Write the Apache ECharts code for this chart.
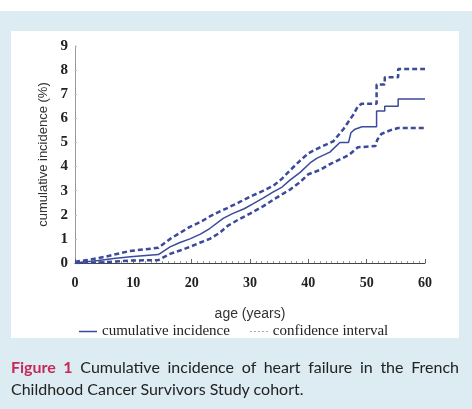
<!DOCTYPE html>
<html>
<head>
<meta charset="utf-8">
<script src="https://cdn.jsdelivr.net/npm/echarts@6/dist/echarts.min.js"></script>
<style>
  body { margin: 0; background: #fff; }
  #wrap { position: relative; width: 472px; height: 409px; overflow: hidden; }
  #main { position: absolute; left: 0; top: 0; width: 472px; height: 409px; }
  #caption {
    position: absolute; left: 11px; top: 356px; width: 448px;
    font-family: Lato, "Open Sans", sans-serif; font-size: 16px; line-height: 22px;
    color: #222; text-align: justify;
  }
  #caption b { color: #c62a5a; font-weight: bold; }
</style>
</head>
<body>
<div id="wrap">
  <div id="main"></div>
  <div id="caption"><b>Figure 1</b> Cumulative incidence of heart failure in the French Childhood Cancer Survivors Study cohort.</div>
</div>
<script>
// cumulative incidence (%) by age (years); repeated ages are the vertical jumps
var incAges = [0, 2, 4, 7, 10, 14.3, 16.3, 18, 19.7, 21.5, 23.1, 25.4, 27, 29, 30.5,
  32.3, 34, 35.5, 36.9, 38.6, 40.3, 41.5, 43.7, 45.4, 46.9, 47.3, 48, 49.2,
  51.7, 51.7, 53.1, 53.1, 55.4, 55.4, 60];
var incVals = [0, 0.05, 0.1, 0.2, 0.27, 0.35, 0.67, 0.85, 1.0, 1.2, 1.43, 1.85, 2.05, 2.25, 2.45,
  2.7, 2.95, 3.15, 3.45, 3.76, 4.15, 4.35, 4.6, 5.0, 5.0, 5.4, 5.55, 5.65,
  5.65, 6.3, 6.3, 6.5, 6.5, 6.8, 6.8];

// upper confidence bound
var upAges = [0, 2, 5, 9.4, 14.3, 16.3, 18, 19.7, 21.5, 23.1, 24.5, 26.1, 28, 30,
  32.3, 34, 35.5, 36.9, 38.6, 40, 42, 44.3, 46, 47.7, 48.5, 49.1,
  51.7, 51.7, 53.1, 53.1, 55.4, 55.4, 60];
var upVals = [0.05, 0.12, 0.25, 0.5, 0.63, 1.0, 1.25, 1.5, 1.7, 1.93, 2.1, 2.28, 2.5, 2.75,
  3.0, 3.2, 3.5, 3.85, 4.25, 4.55, 4.8, 5.05, 5.55, 6.15, 6.5, 6.6,
  6.6, 7.4, 7.4, 7.7, 7.7, 8.05, 8.05];

// lower confidence bound
var lowAges = [0, 4, 9.4, 14.3, 16.3, 18, 19.7, 21.5, 23.1, 24.8, 26.1, 28, 30,
  32.3, 34.5, 36.9, 38.6, 40, 42, 43.7, 45.4, 46.9, 48.5, 51.5, 51.8,
  52.5, 54, 55.4, 60];
var lowVals = [0, 0.02, 0.1, 0.12, 0.38, 0.52, 0.67, 0.85, 1.0, 1.25, 1.53, 1.8, 2.05,
  2.36, 2.7, 3.05, 3.36, 3.68, 3.86, 4.1, 4.3, 4.47, 4.8, 4.85, 5.1,
  5.35, 5.5, 5.6, 5.6];

function pairs(xs, ys) {
  return xs.map(function (x, i) { return [x, ys[i]]; });
}

var navy = '#3b4a9b';
var serif = '"Liberation Serif", "DejaVu Serif", serif';
var sans = '"Liberation Sans", Arial, sans-serif';

var chart = echarts.init(document.getElementById('main'));
chart.setOption({
  animation: false,
  graphic: [
    { type: 'rect', z: -10, shape: { x: 0, y: 11, width: 472, height: 398 }, style: { fill: '#dcecf2' } },
    { type: 'rect', z: -9, shape: { x: 11, y: 31, width: 448, height: 307 }, style: { fill: '#ffffff' } }
  ],
  grid: {
    left: 75,
    right: 47,
    top: 46,
    bottom: 146
  },
  legend: {
    left: 74,
    top: 319,
    itemWidth: 18,
    itemHeight: 2,
    itemGap: 20,
    textStyle: { fontFamily: serif, fontSize: 15, color: '#222' },
    data: [
      { name: 'cumulative incidence',
        icon: 'path://M0,0L18,0L18,1.5L0,1.5Z',
        itemStyle: { color: navy } },
      { name: 'confidence interval',
        icon: 'path://M0,0h2v1h-2zM4,0h2v1h-2zM8,0h2v1h-2zM12,0h2v1h-2zM16,0h2v1h-2z',
        itemStyle: { color: '#9aa3c4' } }
    ]
  },
  xAxis: {
    type: 'value',
    min: 0,
    max: 60,
    interval: 10,
    name: 'age (years)',
    nameLocation: 'middle',
    nameGap: 44,
    nameTextStyle: { fontFamily: sans, fontSize: 14, color: '#333' },
    axisLine: { lineStyle: { color: '#444', width: 1 } },
    axisTick: { inside: true, length: 4, lineStyle: { color: '#666' } },
    minorTick: { show: true, splitNumber: 10, length: 2, lineStyle: { color: '#999' } },
    splitLine: { show: false },
    axisLabel: { fontFamily: serif, fontWeight: 'bold', fontSize: 14, color: '#222', margin: 13 }
  },
  yAxis: {
    type: 'value',
    min: 0,
    max: 9,
    interval: 1,
    name: 'cumulative incidence (%)',
    nameLocation: 'middle',
    nameGap: 19,
    nameTextStyle: { fontFamily: sans, fontSize: 13, color: '#333' },
    axisLine: { show: true, lineStyle: { color: '#999', width: 1 } },
    axisTick: { show: true, inside: true, length: 2, lineStyle: { color: '#bbb' } },
    splitLine: { show: false },
    axisLabel: { fontFamily: serif, fontWeight: 'bold', fontSize: 15, color: '#222', margin: 7 }
  },
  series: [
    {
      name: 'cumulative incidence',
      type: 'line',
      symbol: 'none',
      data: pairs(incAges, incVals),
      lineStyle: { color: navy, width: 1.5 },
      itemStyle: { color: navy }
    },
    {
      name: 'confidence interval',
      type: 'line',
      symbol: 'none',
      data: pairs(upAges, upVals),
      lineStyle: { color: navy, width: 2.5, type: [5, 3] },
      itemStyle: { color: navy }
    },
    {
      name: 'confidence interval',
      type: 'line',
      symbol: 'none',
      data: pairs(lowAges, lowVals),
      lineStyle: { color: navy, width: 2.5, type: [5, 3] },
      itemStyle: { color: navy }
    }
  ]
});
</script>
</body>
</html>
